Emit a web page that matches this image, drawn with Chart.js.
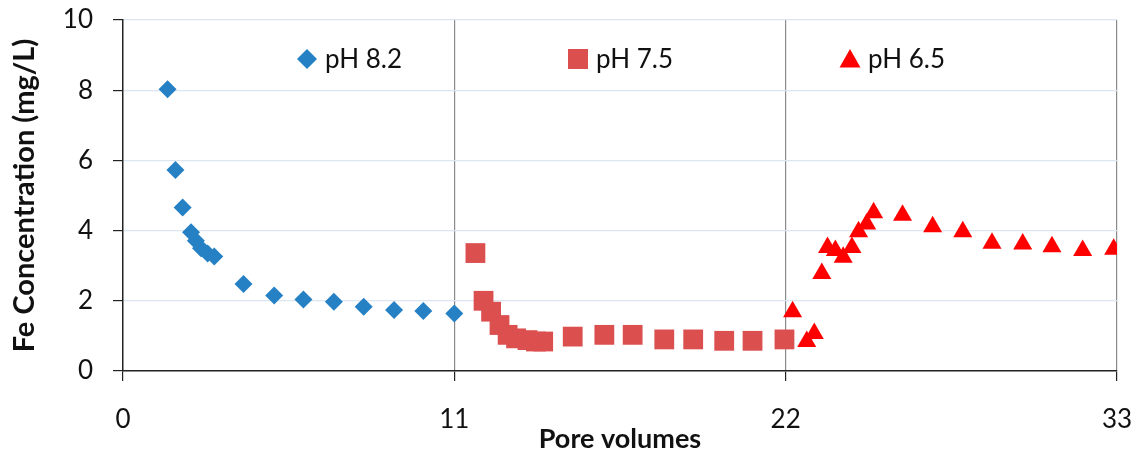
<!DOCTYPE html>
<html>
<head>
<meta charset="utf-8">
<title>Fe concentration vs pore volumes</title>
<script src="https://cdn.jsdelivr.net/npm/chart.js@4.4.1/dist/chart.umd.min.js"></script>
<style>
  html, body { margin: 0; padding: 0; background: #fff; }
  #wrap { width: 1145px; height: 455px; position: relative; }
</style>
</head>
<body>
<div id="wrap"><canvas id="fe-chart"></canvas></div>
<script>
// pH 8.2 run
const ph82Pv = [1.48, 1.74, 1.98, 2.26, 2.42, 2.59, 2.81, 3.03, 4.0, 5.02, 5.99, 7.0, 7.99, 9.0, 9.97, 11.0];
const ph82Fe = [8.03, 5.73, 4.66, 3.95, 3.71, 3.50, 3.35, 3.26, 2.48, 2.15, 2.04, 1.97, 1.83, 1.74, 1.71, 1.64];

// pH 7.5 run
const ph75Pv = [11.7, 11.97, 12.22, 12.5, 12.77, 13.05, 13.43, 13.71, 13.95, 14.93, 15.98, 16.92, 17.97, 18.93, 19.96, 20.9, 21.96];
const ph75Fe = [3.36, 2.0, 1.69, 1.31, 1.03, 0.93, 0.88, 0.84, 0.84, 0.98, 1.03, 1.03, 0.90, 0.90, 0.86, 0.86, 0.90];

// pH 6.5 run
const ph65Pv = [22.23, 22.7, 22.95, 23.2, 23.39, 23.65, 23.91, 24.2, 24.42, 24.69, 24.92, 25.88, 26.88, 27.88, 28.85, 29.87, 30.84, 31.86, 32.89];
const ph65Fe = [1.69, 0.84, 1.07, 2.78, 3.52, 3.43, 3.24, 3.52, 3.97, 4.19, 4.51, 4.44, 4.11, 3.97, 3.64, 3.62, 3.54, 3.43, 3.47];

const seriesLabels = ['pH 8.2', 'pH 7.5', 'pH 6.5'];
const xTicks = [0, 11, 22, 33];
const yTicks = [0, 2, 4, 6, 8, 10];

const FONT = 'Lato, "Open Sans", sans-serif';
Chart.defaults.font.family = FONT;
Chart.defaults.color = '#111';

function toPoints(xs, ys) {
  return xs.map((x, i) => ({ x: x, y: ys[i] }));
}

// legend entries sit inside the plot, one per section
const inlineLegend = {
  id: 'inlineLegend',
  afterDraw(chart, args, opts) {
    const ctx = chart.ctx;
    ctx.save();
    chart.data.datasets.forEach((ds, i) => {
      const x = opts.x[i];
      const y = opts.y;
      const r = opts.size;
      ctx.fillStyle = ds.backgroundColor;
      ctx.beginPath();
      if (ds.pointStyle === 'rectRot') {
        ctx.moveTo(x, y - r);
        ctx.lineTo(x + r, y);
        ctx.lineTo(x, y + r);
        ctx.lineTo(x - r, y);
      } else if (ds.pointStyle === 'rect') {
        ctx.rect(x - r, y - r, 2 * r, 2 * r);
      } else {
        ctx.moveTo(x, y - r);
        ctx.lineTo(x + r * 1.05, y + r * 0.85);
        ctx.lineTo(x - r * 1.05, y + r * 0.85);
      }
      ctx.closePath();
      ctx.fill();
      ctx.font = opts.font;
      ctx.fillStyle = '#111';
      ctx.textBaseline = 'middle';
      ctx.textAlign = 'left';
      ctx.fillText(ds.label, x + opts.gap, y + 1);
    });
    ctx.restore();
  }
};

new Chart(document.getElementById('fe-chart'), {
  type: 'scatter',
  data: {
    datasets: [{
      label: seriesLabels[0],
      data: toPoints(ph82Pv, ph82Fe),
      pointStyle: 'rectRot',
      pointRadius: 9,
      pointBorderWidth: 0,
      backgroundColor: '#2681c4',
      borderColor: '#2681c4'
    }, {
      label: seriesLabels[1],
      data: toPoints(ph75Pv, ph75Fe),
      pointStyle: 'rect',
      pointRadius: 14,
      pointBorderWidth: 0,
      backgroundColor: '#dc4f4f',
      borderColor: '#dc4f4f'
    }, {
      label: seriesLabels[2],
      data: toPoints(ph65Pv, ph65Fe),
      pointStyle: 'triangle',
      pointRadius: 11,
      pointBorderWidth: 0,
      backgroundColor: '#ff0000',
      borderColor: '#ff0000'
    }]
  },
  options: {
    responsive: true,
    maintainAspectRatio: false,
    animation: false,
    layout: { padding: { top: 20, right: 28, left: 0, bottom: 0 } },
    plugins: {
      legend: { display: false },
      tooltip: { enabled: false },
      inlineLegend: {
        x: [307, 578, 850],
        y: 59,
        size: 10,
        gap: 18,
        font: '26px ' + FONT
      }
    },
    scales: {
      x: {
        type: 'linear',
        min: 0,
        max: 33,
        afterBuildTicks: s => { s.ticks = xTicks.map(v => ({ value: v })); },
        afterFit: s => {
          s.height = 84;
          s.paddingLeft = 0;
          s.paddingRight = 0;
        },
        ticks: { padding: 23, font: { size: 26 } },
        grid: {
          color: c => (c.tick && c.tick.value === 0 ? 'rgba(0,0,0,0)' : '#8a8a8a'),
          lineWidth: 1.2,
          tickColor: '#222',
          tickLength: 10
        },
        border: { color: '#222', width: 1.5 },
        title: {
          display: true,
          text: 'Pore volumes',
          font: { size: 27, weight: 'bold' },
          padding: { top: 0, bottom: 0 }
        }
      },
      y: {
        type: 'linear',
        min: 0,
        max: 10,
        afterBuildTicks: s => { s.ticks = yTicks.map(v => ({ value: v })); },
        afterFit: s => {
          s.width = 123;
          s.paddingTop = 0;
          s.paddingBottom = 0;
        },
        ticks: { padding: 20, font: { size: 26 } },
        grid: {
          color: '#dce6f2',
          lineWidth: 1.2,
          tickColor: '#222',
          tickLength: 10
        },
        border: { color: '#222', width: 1.5 },
        title: {
          display: true,
          text: 'Fe Concentration (mg/L)',
          font: { size: 29, weight: 'bold' },
          padding: { top: 7, bottom: 0 }
        }
      }
    }
  },
  plugins: [inlineLegend]
});
</script>
</body>
</html>
